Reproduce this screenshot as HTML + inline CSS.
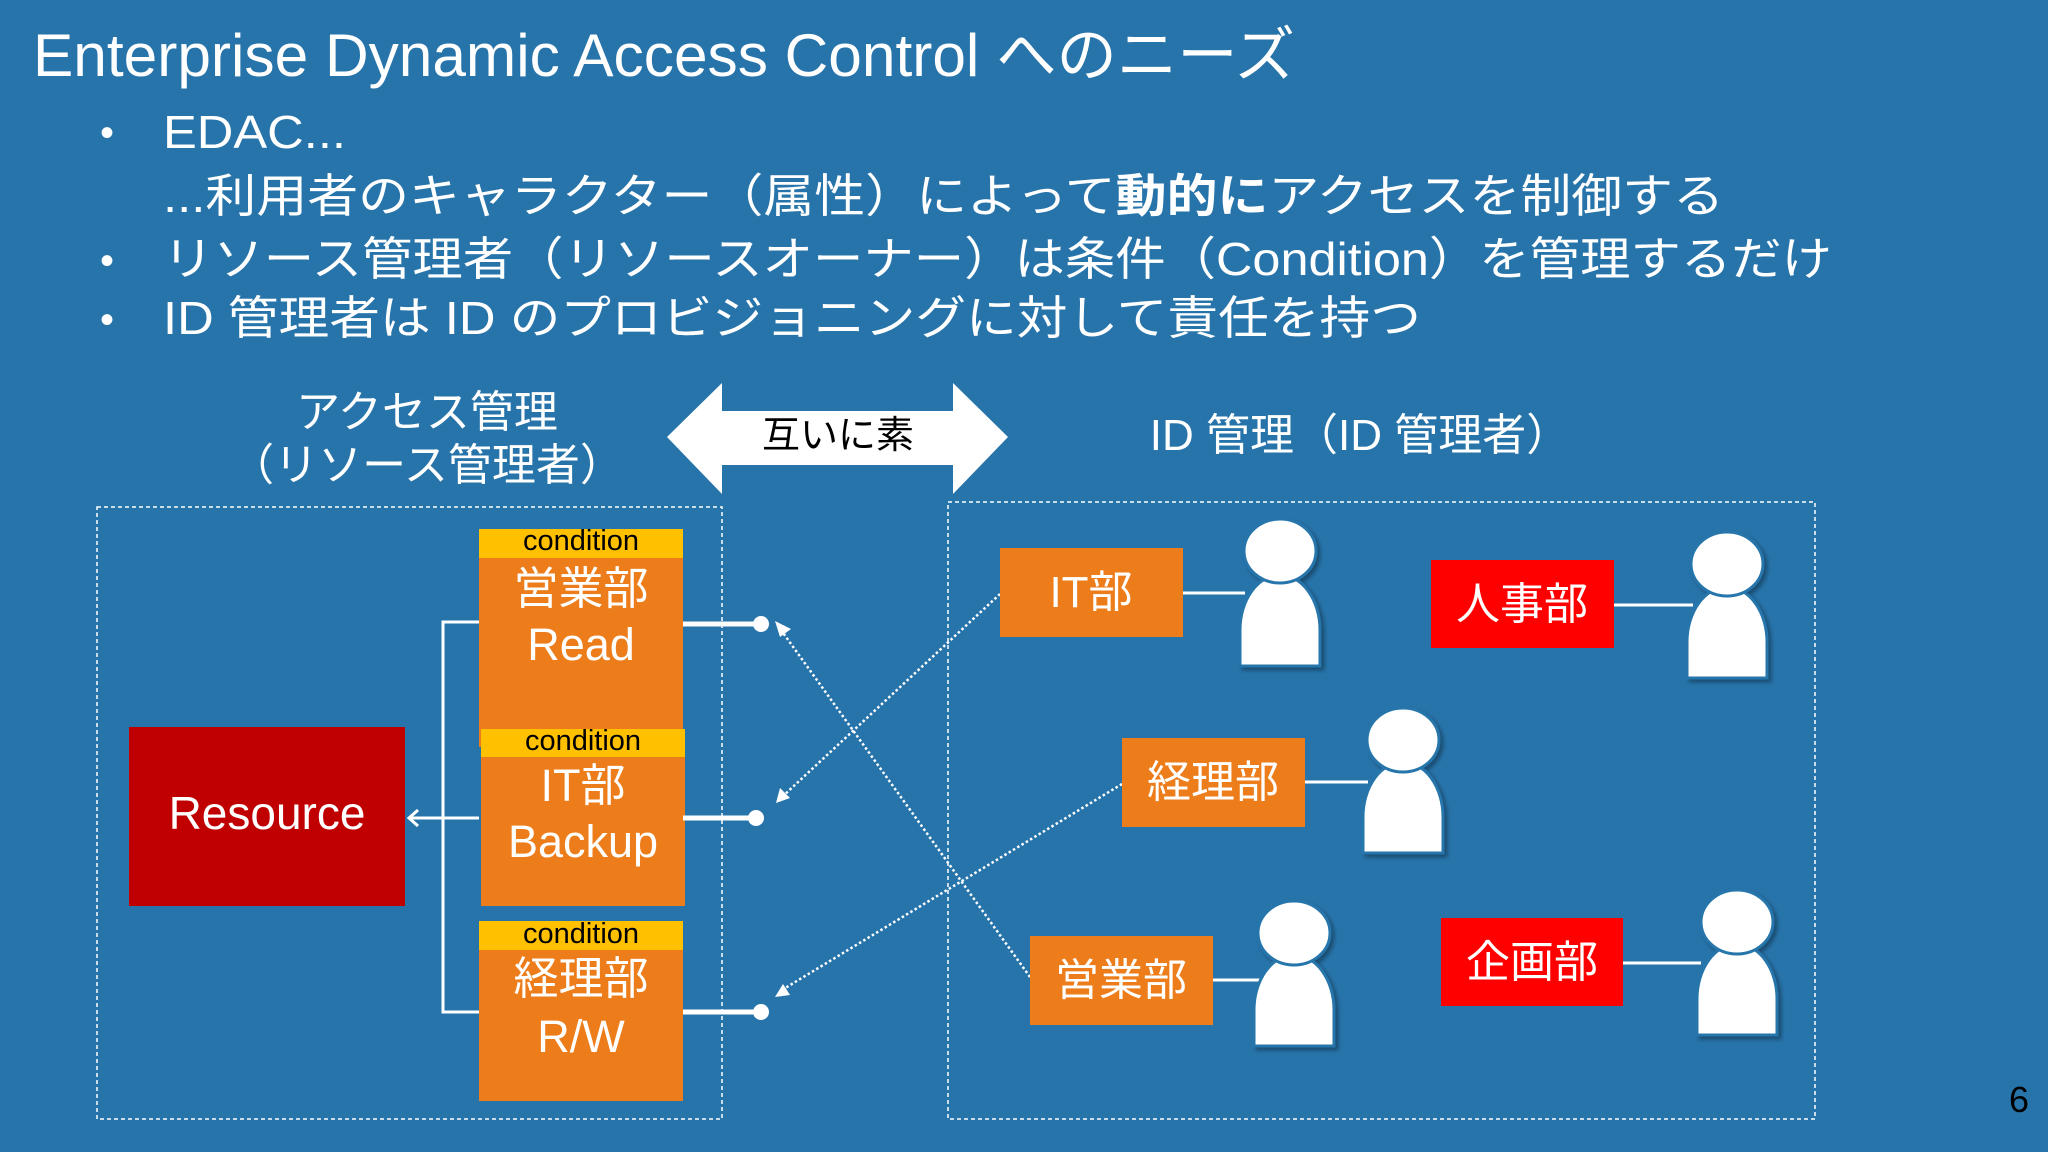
<!DOCTYPE html>
<html><head><meta charset="utf-8"><style>
html,body{margin:0;padding:0;background:#2774AB;}
svg{display:block;}
text{font-family:"Liberation Sans","Noto Sans CJK JP",sans-serif;}
</style></head><body>
<svg width="2048" height="1152" viewBox="0 0 2048 1152" xmlns="http://www.w3.org/2000/svg">
<defs>
<filter id="sh" x="-20%" y="-20%" width="150%" height="150%"><feDropShadow dx="3" dy="3" stdDeviation="2" flood-color="#000" flood-opacity="0.35"/></filter>
</defs>
<rect width="2048" height="1152" fill="#2774AB"/>
<text x="33" y="76" font-size="60" fill="#fff" textLength="1262" lengthAdjust="spacingAndGlyphs">Enterprise Dynamic Access Control へのニーズ</text>
<g fill="#fff" font-size="46">
<text x="100" y="146" font-size="40">•</text>
<text x="163" y="148" textLength="183" lengthAdjust="spacingAndGlyphs">EDAC...</text>
<text x="163" y="212" textLength="1561" lengthAdjust="spacingAndGlyphs">...利用者のキャラクター（属性）によって<tspan font-weight="bold">動的に</tspan>アクセスを制御する</text>
<text x="100" y="274" font-size="40">•</text>
<text x="163" y="275" textLength="1669" lengthAdjust="spacingAndGlyphs">リソース管理者（リソースオーナー）は条件（Condition）を管理するだけ</text>
<text x="100" y="333" font-size="40">•</text>
<text x="163" y="334" textLength="1258" lengthAdjust="spacingAndGlyphs">ID 管理者は ID のプロビジョニングに対して責任を持つ</text>
</g>
<text x="427" y="427" font-size="44" fill="#fff" text-anchor="middle">アクセス管理</text>
<text x="427" y="480" font-size="44" fill="#fff" text-anchor="middle">（リソース管理者）</text>
<text x="1360" y="450" font-size="44" fill="#fff" text-anchor="middle">ID 管理（ID 管理者）</text>
<polygon points="667,437 722,383 722,411 953,411 953,383 1008,437 953,494 953,465 722,465 722,494" fill="#fff"/>
<text x="838" y="448" font-size="38" fill="#000" text-anchor="middle">互いに素</text>
<rect x="97" y="507" width="625" height="612" fill="none" stroke="#fff" stroke-width="1.5" stroke-dasharray="4,3"/>
<rect x="948" y="502" width="867" height="617" fill="none" stroke="#fff" stroke-width="1.5" stroke-dasharray="4,3"/>
<rect x="129" y="727" width="276" height="179" fill="#C00000"/>
<text x="267" y="829" font-size="46" fill="#fff" text-anchor="middle">Resource</text>
<g stroke="#fff" stroke-width="3" fill="none">
<polyline points="479,622 443,622 443,1012 479,1012"/>
<line x1="443" y1="818" x2="479" y2="818"/>
<line x1="443" y1="818" x2="409" y2="818"/>
<polyline points="418,810 409,818 418,826"/>
</g>
<g>
<rect x="479" y="529" width="204" height="218" fill="#ED7D1A"/>
<rect x="479" y="529" width="204" height="29" fill="#FFC000"/>
<rect x="481" y="729" width="204" height="177" fill="#ED7D1A"/>
<rect x="481" y="729" width="204" height="28" fill="#FFC000"/>
<rect x="479" y="921" width="204" height="180" fill="#ED7D1A"/>
<rect x="479" y="921" width="204" height="29" fill="#FFC000"/>
</g>
<g font-size="29" fill="#000" text-anchor="middle">
<text x="581" y="550">condition</text>
<text x="583" y="750">condition</text>
<text x="581" y="943">condition</text>
</g>
<g font-size="45" fill="#fff" text-anchor="middle">
<text x="581" y="604">営業部</text>
<text x="581" y="660">Read</text>
<text x="583" y="801">IT部</text>
<text x="583" y="857">Backup</text>
<text x="581" y="994">経理部</text>
<text x="581" y="1052">R/W</text>
</g>
<g stroke="#fff" stroke-width="5">
<line x1="683" y1="624" x2="761" y2="624"/>
<line x1="683" y1="818" x2="756" y2="818"/>
<line x1="683" y1="1012" x2="761" y2="1012"/>
</g>
<g fill="#fff">
<circle cx="761" cy="624" r="8"/>
<circle cx="756" cy="818" r="8"/>
<circle cx="761" cy="1012" r="8"/>
</g>
<g stroke="#fff" stroke-width="2.5" stroke-dasharray="2.5,2.5" fill="none">
<line x1="1000" y1="594" x2="782" y2="797"/>
<line x1="1122" y1="784" x2="782" y2="990"/>
<line x1="1030" y1="977" x2="781" y2="630"/>
</g>
<g fill="#fff">
<polygon points="776,803 780,788 790,798"/>
<polygon points="775,997 783,984 790,995"/>
<polygon points="775,621 791,629 780,637"/>
</g>
<rect x="1000" y="548" width="183" height="89" fill="#ED7D1A"/>
<rect x="1431" y="560" width="183" height="88" fill="#FF0000"/>
<rect x="1122" y="738" width="183" height="89" fill="#ED7D1A"/>
<rect x="1030" y="936" width="183" height="89" fill="#ED7D1A"/>
<rect x="1441" y="918" width="182" height="88" fill="#FF0000"/>
<g font-size="44" fill="#fff" text-anchor="middle">
<text x="1091" y="607">IT部</text>
<text x="1522" y="619">人事部</text>
<text x="1213" y="797">経理部</text>
<text x="1121" y="995">営業部</text>
<text x="1532" y="977">企画部</text>
</g>
<g stroke="#fff" stroke-width="3">
<line x1="1183" y1="593" x2="1245" y2="593"/>
<line x1="1614" y1="605" x2="1693" y2="605"/>
<line x1="1305" y1="782" x2="1368" y2="782"/>
<line x1="1213" y1="980" x2="1260" y2="980"/>
<line x1="1623" y1="963" x2="1701" y2="963"/>
</g>
<g fill="#fff" stroke="#2774AB" stroke-width="3" filter="url(#sh)">
<path d="M1240,666 V630 A40,55 0 0 1 1320,630 V666 Z"/><ellipse cx="1280" cy="551" rx="36" ry="32"/>
<path d="M1687,678 V642 A40,55 0 0 1 1767,642 V678 Z"/><ellipse cx="1727" cy="564" rx="36" ry="32"/>
<path d="M1363,853 V817 A40,55 0 0 1 1443,817 V853 Z"/><ellipse cx="1403" cy="740" rx="36" ry="32"/>
<path d="M1254,1046 V1010 A40,55 0 0 1 1334,1010 V1046 Z"/><ellipse cx="1294" cy="933" rx="36" ry="32"/>
<path d="M1697,1035 V999 A40,55 0 0 1 1777,999 V1035 Z"/><ellipse cx="1737" cy="922" rx="36" ry="32"/>
</g>
<text x="2019" y="1112" font-size="36" fill="#000" text-anchor="middle">6</text>
</svg>
</body></html>
